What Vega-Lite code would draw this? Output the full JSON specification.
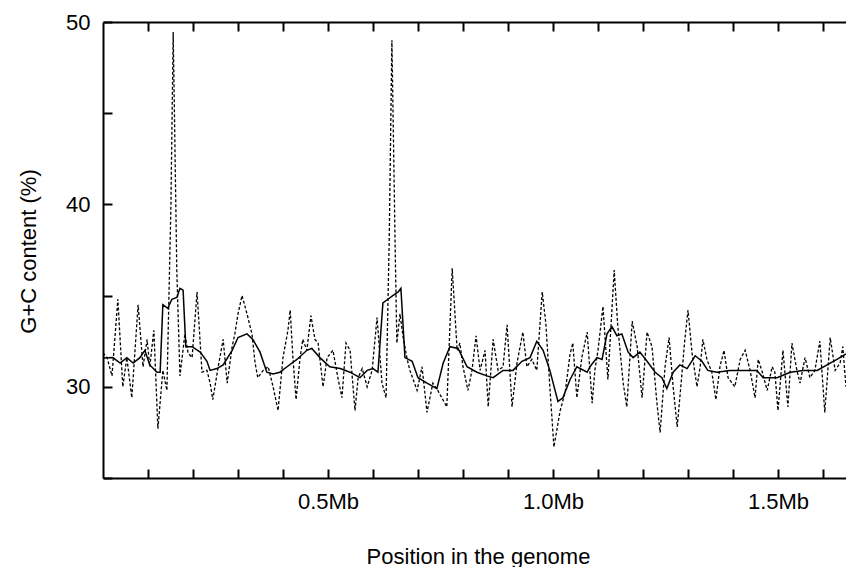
{
  "$schema": "https://vega.github.io/schema/vega-lite/v6.json",
  "width": 747,
  "height": 456,
  "autosize": "none",
  "padding": {"left": 103, "top": 22, "right": 0, "bottom": 89},
  "background": "white",
  "config": {
    "view": {"stroke": null},
    "axis": {
      "labelFont": "Liberation Sans", "titleFont": "Liberation Sans",
      "labelFontSize": 22, "titleFontSize": 22, "titleFontWeight": "normal",
      "labelColor": "black", "titleColor": "black",
      "domainColor": "black", "tickColor": "black",
      "domainWidth": 2, "tickWidth": 2, "grid": false
    }
  },
  "datasets": {
    "raw": [
      {"x":0.000,"v":31.85},{"x":0.009,"v":31.6},{"x":0.020,"v":30.6},{"x":0.033,"v":34.8},{"x":0.044,"v":30.0},
      {"x":0.053,"v":31.6},{"x":0.064,"v":29.4},{"x":0.078,"v":34.5},{"x":0.089,"v":31.1},{"x":0.098,"v":32.6},
      {"x":0.104,"v":31.1},{"x":0.113,"v":33.1},{"x":0.122,"v":27.7},{"x":0.133,"v":30.9},{"x":0.142,"v":29.8},
      {"x":0.151,"v":40.0},{"x":0.156,"v":49.45},{"x":0.164,"v":36.4},{"x":0.171,"v":30.6},{"x":0.182,"v":32.9},
      {"x":0.189,"v":31.85},{"x":0.198,"v":31.6},{"x":0.209,"v":35.2},{"x":0.220,"v":30.8},{"x":0.231,"v":30.9},
      {"x":0.238,"v":30.2},{"x":0.244,"v":29.3},{"x":0.256,"v":31.1},{"x":0.267,"v":32.6},{"x":0.276,"v":30.2},
      {"x":0.287,"v":32.2},{"x":0.293,"v":32.9},{"x":0.300,"v":34.0},{"x":0.309,"v":35.0},{"x":0.320,"v":34.0},
      {"x":0.331,"v":32.9},{"x":0.338,"v":31.3},{"x":0.344,"v":30.5},{"x":0.356,"v":30.9},{"x":0.367,"v":31.1},
      {"x":0.378,"v":30.0},{"x":0.389,"v":28.7},{"x":0.400,"v":31.6},{"x":0.411,"v":33.1},{"x":0.416,"v":34.2},
      {"x":0.422,"v":31.6},{"x":0.429,"v":29.3},{"x":0.438,"v":31.6},{"x":0.444,"v":32.6},{"x":0.453,"v":32.0},
      {"x":0.462,"v":33.9},{"x":0.471,"v":32.6},{"x":0.478,"v":32.4},{"x":0.489,"v":30.0},{"x":0.498,"v":31.6},
      {"x":0.511,"v":32.0},{"x":0.522,"v":30.5},{"x":0.531,"v":29.4},{"x":0.540,"v":32.4},{"x":0.549,"v":32.0},
      {"x":0.560,"v":28.7},{"x":0.567,"v":30.5},{"x":0.576,"v":31.0},{"x":0.587,"v":30.0},{"x":0.598,"v":30.9},
      {"x":0.609,"v":33.8},{"x":0.620,"v":30.2},{"x":0.629,"v":29.4},{"x":0.636,"v":38.0},{"x":0.642,"v":49.0},
      {"x":0.649,"v":38.0},{"x":0.653,"v":32.4},{"x":0.660,"v":34.0},{"x":0.667,"v":32.7},{"x":0.676,"v":31.5},
      {"x":0.682,"v":30.9},{"x":0.698,"v":29.8},{"x":0.709,"v":31.1},{"x":0.720,"v":28.6},{"x":0.733,"v":30.2},
      {"x":0.744,"v":29.8},{"x":0.764,"v":28.9},{"x":0.776,"v":36.5},{"x":0.787,"v":32.0},{"x":0.793,"v":32.4},
      {"x":0.800,"v":31.1},{"x":0.811,"v":29.8},{"x":0.820,"v":30.9},{"x":0.829,"v":32.8},{"x":0.838,"v":30.9},
      {"x":0.849,"v":32.0},{"x":0.856,"v":28.9},{"x":0.867,"v":32.6},{"x":0.878,"v":30.9},{"x":0.889,"v":31.1},
      {"x":0.898,"v":33.4},{"x":0.909,"v":28.9},{"x":0.920,"v":31.3},{"x":0.933,"v":33.0},{"x":0.942,"v":31.1},
      {"x":0.953,"v":31.5},{"x":0.964,"v":30.9},{"x":0.976,"v":35.2},{"x":0.984,"v":33.5},{"x":0.993,"v":30.0},
      {"x":1.002,"v":26.7},{"x":1.016,"v":28.7},{"x":1.027,"v":29.7},{"x":1.038,"v":31.8},{"x":1.044,"v":32.4},
      {"x":1.053,"v":29.4},{"x":1.064,"v":31.6},{"x":1.076,"v":33.0},{"x":1.087,"v":29.1},{"x":1.093,"v":30.9},
      {"x":1.100,"v":32.0},{"x":1.111,"v":34.4},{"x":1.122,"v":30.4},{"x":1.136,"v":36.4},{"x":1.144,"v":33.3},
      {"x":1.156,"v":30.2},{"x":1.164,"v":28.9},{"x":1.176,"v":33.6},{"x":1.187,"v":32.2},{"x":1.198,"v":29.4},
      {"x":1.209,"v":33.0},{"x":1.220,"v":32.2},{"x":1.231,"v":29.1},{"x":1.238,"v":27.5},{"x":1.249,"v":31.1},
      {"x":1.258,"v":32.7},{"x":1.267,"v":30.0},{"x":1.276,"v":27.8},{"x":1.284,"v":30.0},{"x":1.293,"v":32.6},
      {"x":1.300,"v":34.2},{"x":1.309,"v":31.85},{"x":1.320,"v":30.0},{"x":1.327,"v":31.1},{"x":1.333,"v":32.6},
      {"x":1.342,"v":31.5},{"x":1.353,"v":30.8},{"x":1.362,"v":29.3},{"x":1.371,"v":31.1},{"x":1.380,"v":32.0},
      {"x":1.389,"v":30.5},{"x":1.404,"v":30.0},{"x":1.416,"v":31.5},{"x":1.427,"v":32.0},{"x":1.438,"v":30.9},
      {"x":1.449,"v":29.4},{"x":1.456,"v":31.5},{"x":1.464,"v":30.9},{"x":1.476,"v":29.8},{"x":1.487,"v":31.1},
      {"x":1.493,"v":30.8},{"x":1.500,"v":28.7},{"x":1.511,"v":32.0},{"x":1.522,"v":28.9},{"x":1.531,"v":32.4},
      {"x":1.542,"v":30.9},{"x":1.549,"v":30.2},{"x":1.560,"v":31.6},{"x":1.571,"v":30.5},{"x":1.582,"v":30.9},
      {"x":1.593,"v":32.5},{"x":1.604,"v":28.6},{"x":1.616,"v":32.7},{"x":1.627,"v":30.9},{"x":1.638,"v":31.3},
      {"x":1.644,"v":32.2},{"x":1.651,"v":30.0}
    ],
    "smooth": [
      {"x":0.000,"v":31.58},{"x":0.022,"v":31.6},{"x":0.038,"v":31.3},{"x":0.053,"v":31.6},{"x":0.067,"v":31.3},
      {"x":0.082,"v":31.6},{"x":0.093,"v":32.0},{"x":0.104,"v":31.2},{"x":0.120,"v":30.8},{"x":0.127,"v":30.8},
      {"x":0.133,"v":34.5},{"x":0.144,"v":34.3},{"x":0.153,"v":34.8},{"x":0.164,"v":34.9},{"x":0.171,"v":35.4},
      {"x":0.178,"v":35.3},{"x":0.184,"v":32.2},{"x":0.198,"v":32.2},{"x":0.216,"v":31.9},{"x":0.231,"v":31.4},
      {"x":0.238,"v":30.9},{"x":0.253,"v":31.0},{"x":0.267,"v":31.2},{"x":0.287,"v":32.0},{"x":0.300,"v":32.7},
      {"x":0.320,"v":32.9},{"x":0.333,"v":32.6},{"x":0.349,"v":31.9},{"x":0.364,"v":30.8},{"x":0.378,"v":30.7},
      {"x":0.393,"v":30.8},{"x":0.409,"v":31.1},{"x":0.431,"v":31.5},{"x":0.453,"v":32.0},{"x":0.464,"v":32.1},
      {"x":0.482,"v":31.6},{"x":0.504,"v":31.1},{"x":0.527,"v":31.0},{"x":0.549,"v":30.8},{"x":0.571,"v":30.5},
      {"x":0.587,"v":30.9},{"x":0.600,"v":31.0},{"x":0.611,"v":30.8},{"x":0.622,"v":34.6},{"x":0.633,"v":34.8},
      {"x":0.644,"v":35.0},{"x":0.656,"v":35.2},{"x":0.662,"v":35.4},{"x":0.671,"v":31.6},{"x":0.687,"v":31.4},
      {"x":0.700,"v":30.5},{"x":0.720,"v":30.2},{"x":0.742,"v":29.9},{"x":0.756,"v":31.3},{"x":0.771,"v":32.2},
      {"x":0.789,"v":32.1},{"x":0.809,"v":31.1},{"x":0.831,"v":30.8},{"x":0.853,"v":30.6},{"x":0.867,"v":30.5},
      {"x":0.889,"v":30.9},{"x":0.911,"v":30.9},{"x":0.931,"v":31.4},{"x":0.949,"v":31.6},{"x":0.964,"v":32.5},
      {"x":0.978,"v":32.0},{"x":0.993,"v":30.9},{"x":1.011,"v":29.2},{"x":1.022,"v":29.4},{"x":1.038,"v":30.4},
      {"x":1.053,"v":31.1},{"x":1.076,"v":30.8},{"x":1.082,"v":31.1},{"x":1.098,"v":31.6},{"x":1.109,"v":31.5},
      {"x":1.120,"v":32.9},{"x":1.131,"v":33.3},{"x":1.142,"v":32.8},{"x":1.153,"v":32.9},{"x":1.167,"v":31.9},
      {"x":1.178,"v":31.6},{"x":1.193,"v":31.9},{"x":1.209,"v":31.4},{"x":1.227,"v":30.8},{"x":1.242,"v":30.5},
      {"x":1.253,"v":29.9},{"x":1.267,"v":30.8},{"x":1.282,"v":31.2},{"x":1.298,"v":31.0},{"x":1.316,"v":31.7},
      {"x":1.331,"v":31.4},{"x":1.344,"v":30.9},{"x":1.364,"v":30.8},{"x":1.393,"v":30.9},{"x":1.422,"v":30.9},
      {"x":1.453,"v":30.9},{"x":1.467,"v":30.5},{"x":1.498,"v":30.5},{"x":1.527,"v":30.8},{"x":1.556,"v":30.9},
      {"x":1.587,"v":30.9},{"x":1.616,"v":31.3},{"x":1.631,"v":31.5},{"x":1.644,"v":31.7},{"x":1.651,"v":31.8}
    ]
  },
  "encoding": {
    "y": {
      "field": "v", "type": "quantitative",
      "scale": {"domain": [25, 50], "nice": false, "zero": false},
      "axis": {
        "values": [25, 30, 35, 40, 45, 50],
        "labelExpr": "datum.value % 10 == 0 ? datum.label : ''",
        "tickSize": -9, "labelPadding": 22,
        "title": "G+C content (%)",
        "titleX": -68, "titleY": 229, "titleBaseline": "alphabetic"
      }
    }
  },
  "layer": [
    {
      "data": {"name": "smooth"},
      "mark": {"type": "line", "color": "black", "strokeWidth": 1.5, "clip": true},
      "encoding": {
        "x": {
          "field": "x", "type": "quantitative",
          "scale": {"domain": [0, 1.66], "nice": false, "zero": false},
          "axis": {
            "orient": "bottom",
            "values": [0.1, 0.2, 0.3, 0.4, 0.5, 0.6, 0.7, 0.8, 0.9, 1.0, 1.1, 1.2, 1.3, 1.4, 1.5, 1.6],
            "labelExpr": "datum.value == 0.5 ? '0.5Mb' : datum.value == 1 ? '1.0Mb' : datum.value == 1.5 ? '1.5Mb' : ''",
            "tickSize": -9, "labelPadding": 22,
            "title": "Position in the genome",
            "titleX": 375, "titleY": 85, "titleBaseline": "alphabetic"
          }
        }
      }
    },
    {
      "data": {"name": "raw"},
      "mark": {"type": "line", "color": "black", "strokeWidth": 1.3, "strokeDash": [3, 2], "clip": true},
      "encoding": {
        "x": {
          "field": "x", "type": "quantitative",
          "scale": {"domain": [0, 1.66], "nice": false, "zero": false},
          "axis": {
            "orient": "top",
            "values": [0.1, 0.2, 0.3, 0.4, 0.5, 0.6, 0.7, 0.8, 0.9, 1.0, 1.1, 1.2, 1.3, 1.4, 1.5, 1.6],
            "labels": false, "tickSize": -9, "title": null
          }
        }
      }
    }
  ],
  "resolve": {"axis": {"x": "independent"}}
}
